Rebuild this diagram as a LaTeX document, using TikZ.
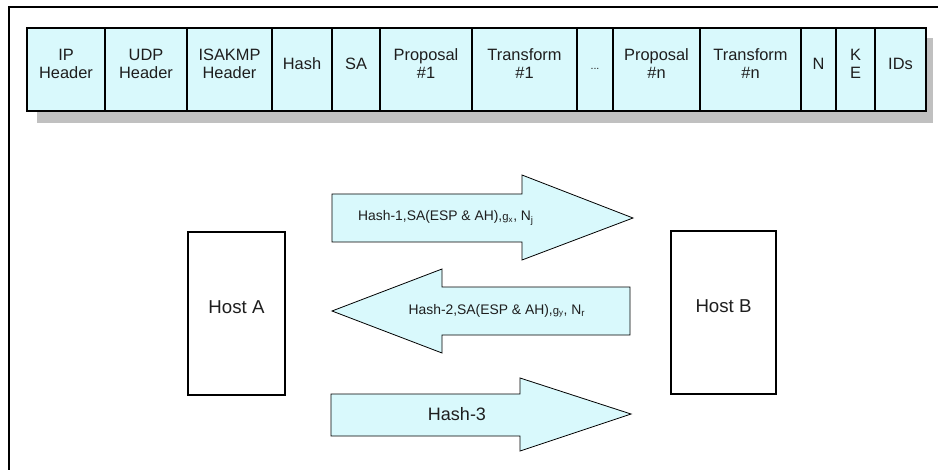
\documentclass[tikz,border=0pt]{standalone}
\usepackage{fontspec}
\setmainfont{Liberation Sans}
\usetikzlibrary{fit}
\definecolor{cellfill}{RGB}{217,249,252}
\definecolor{shadowgray}{RGB}{192,192,192}
\definecolor{txt}{RGB}{30,30,30}
\begin{document}
\begin{tikzpicture}[x=0.75pt,y=-0.75pt,
  cell/.style={draw=black, line width=0.8pt, fill=cellfill, inner sep=0pt, align=center, text=txt, font=\fontsize{12.3}{14}\selectfont},
  host/.style={draw=black, line width=0.8pt, fill=white, inner sep=0pt, text=txt, font=\fontsize{14}{16}\selectfont},
  blockarrow/.style={draw=black, line width=0.6pt, fill=cellfill, line join=miter},
  lbl/.style={inner sep=0pt, text=txt, font=\fontsize{10.4}{12}\selectfont},
  biglbl/.style={inner sep=0pt, text=txt, font=\fontsize{13.5}{15}\selectfont}]
\useasboundingbox (0,0) rectangle (938,470);
% outer frame
\draw[line width=1pt] (9,470) -- (9,7) -- (938,7);
% packet shadow
\fill[shadowgray] (37,38) rectangle (933,123);
% packet cells
\node[cell, fit={(27,28)(105,111)}] (ip) {IP\\Header};
\node[cell, fit={(105,28)(187,111)}] (udp) {UDP\\Header};
\node[cell, fit={(187,28)(272,111)}] (isakmp) {ISAKMP\\Header};
\node[cell, fit={(272,28)(332,111)}] (hash) {Hash};
\node[cell, fit={(332,28)(380,111)}] (sa) {SA};
\node[cell, fit={(380,28)(472,111)}] (prop1) {Proposal\\\#1};
\node[cell, fit={(472,28)(577,111)}] (trans1) {Transform\\\#1};
\node[cell, fit={(577,28)(613,111)}] (dots) {\fontsize{8}{10}\selectfont ...};
\node[cell, fit={(613,28)(700,111)}] (propn) {Proposal\\\#n};
\node[cell, fit={(700,28)(801,111)}] (transn) {Transform\\\#n};
\node[cell, fit={(801,28)(836,111)}] (n) {N};
\node[cell, fit={(836,28)(875,111)}] (ke) {K\\E};
\node[cell, fit={(875,28)(926,111)}] (ids) {IDs};
% hosts
\node[host, fit={(188,232)(285,395)}] (hostA) {Host A};
\node[host, fit={(671,231)(776,394)}] (hostB) {Host B};
% arrow 1 (A -> B)
\draw[blockarrow] (332,194) -- (522,194) -- (522,175) -- (633,218) -- (522,260) -- (522,242) -- (332,242) -- cycle;
\node[lbl] (m1) at (446,218) {Hash-1,SA(ESP \& AH),{\fontsize{8.5}{10}\selectfont g\textsubscript{x}}, N\textsubscript{j}};
% arrow 2 (B -> A)
\draw[blockarrow] (630,287) -- (442,287) -- (442,269) -- (332,311) -- (442,353) -- (442,335) -- (630,335) -- cycle;
\node[lbl] (m2) at (497,311) {Hash-2,SA(ESP \& AH),{\fontsize{8.5}{10}\selectfont g\textsubscript{y}}, N\textsubscript{r}};
% arrow 3 (A -> B)
\draw[blockarrow] (331,394) -- (520,394) -- (520,378) -- (631,414) -- (520,451) -- (520,436) -- (331,436) -- cycle;
\node[biglbl] (m3) at (457,414) {Hash-3};
\end{tikzpicture}
\end{document}
